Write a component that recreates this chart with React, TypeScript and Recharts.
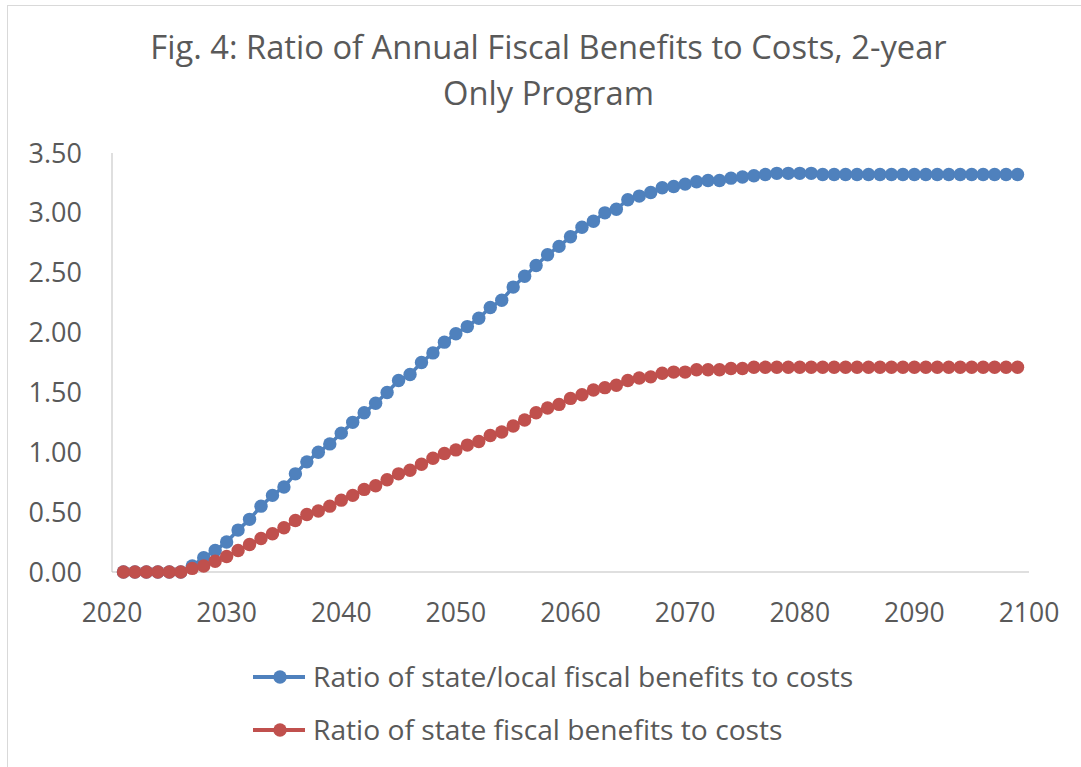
import { Line, LineChart, XAxis, YAxis } from 'recharts';

const YEARS = [
  2021, 2022, 2023, 2024, 2025, 2026, 2027, 2028, 2029, 2030,
  2031, 2032, 2033, 2034, 2035, 2036, 2037, 2038, 2039, 2040,
  2041, 2042, 2043, 2044, 2045, 2046, 2047, 2048, 2049, 2050,
  2051, 2052, 2053, 2054, 2055, 2056, 2057, 2058, 2059, 2060,
  2061, 2062, 2063, 2064, 2065, 2066, 2067, 2068, 2069, 2070,
  2071, 2072, 2073, 2074, 2075, 2076, 2077, 2078, 2079, 2080,
  2081, 2082, 2083, 2084, 2085, 2086, 2087, 2088, 2089, 2090,
  2091, 2092, 2093, 2094, 2095, 2096, 2097, 2098, 2099,
];

const STATE_LOCAL = [
  0, 0, 0, 0, 0, 0, 0.05, 0.12, 0.18, 0.25,
  0.35, 0.44, 0.55, 0.64, 0.71, 0.82, 0.92, 1.0, 1.07, 1.16,
  1.25, 1.33, 1.41, 1.5, 1.6, 1.65, 1.75, 1.83, 1.92, 1.99,
  2.05, 2.12, 2.21, 2.27, 2.38, 2.47, 2.56, 2.65, 2.72, 2.8,
  2.88, 2.93, 3.0, 3.03, 3.11, 3.14, 3.17, 3.21, 3.22, 3.24,
  3.26, 3.27, 3.27, 3.29, 3.3, 3.31, 3.32, 3.33, 3.33, 3.33,
  3.33, 3.32, 3.32, 3.32, 3.32, 3.32, 3.32, 3.32, 3.32, 3.32,
  3.32, 3.32, 3.32, 3.32, 3.32, 3.32, 3.32, 3.32, 3.32,
];

const STATE_ONLY = [
  0, 0, 0, 0, 0, 0, 0.03, 0.05, 0.09, 0.13,
  0.18, 0.23, 0.28, 0.32, 0.37, 0.43, 0.48, 0.51, 0.55, 0.6,
  0.64, 0.69, 0.72, 0.77, 0.82, 0.85, 0.9, 0.95, 0.99, 1.02,
  1.06, 1.09, 1.14, 1.17, 1.22, 1.27, 1.33, 1.37, 1.4, 1.45,
  1.48, 1.52, 1.54, 1.56, 1.6, 1.62, 1.63, 1.66, 1.67, 1.67,
  1.69, 1.69, 1.69, 1.7, 1.7, 1.71, 1.71, 1.71, 1.71, 1.71,
  1.71, 1.71, 1.71, 1.71, 1.71, 1.71, 1.71, 1.71, 1.71, 1.71,
  1.71, 1.71, 1.71, 1.71, 1.71, 1.71, 1.71, 1.71, 1.71,
];

const X_TICKS = [2020, 2030, 2040, 2050, 2060, 2070, 2080, 2090, 2100];
const Y_TICKS = [0, 0.5, 1, 1.5, 2, 2.5, 3, 3.5];

const SERIES = [
  { key: 'stateLocal', name: 'Ratio of state/local fiscal benefits to costs', color: '#4F81BD' },
  { key: 'state', name: 'Ratio of state fiscal benefits to costs', color: '#C0504D' },
];

const data = YEARS.map((year, i) => ({
  year,
  stateLocal: STATE_LOCAL[i],
  state: STATE_ONLY[i],
}));

const FONT = '"Open Sans", sans-serif';
const TEXT = '#595959';
const AXIS = '#BFBFBF';

export default function App() {
  return (
    <div style={{ position: 'absolute', left: 0, top: 0, width: 1081, height: 767, background: '#fff', fontFamily: FONT }}>
      <div style={{ position: 'absolute', left: 7, top: 5, width: 1074, height: 762, borderLeft: '1px solid #d9d9d9', borderTop: '1px solid #d9d9d9' }} />
      <div style={{ position: 'absolute', left: 0, top: 24, width: 1097, textAlign: 'center', fontSize: 32.7, lineHeight: '46px', color: TEXT }}>
        Fig. 4: Ratio of Annual Fiscal Benefits to Costs, 2-year
        <br />
        Only Program
      </div>
      <div style={{ position: 'absolute', left: 0, top: 0 }}>
        <LineChart width={1081} height={767} data={data} margin={{ top: 153, right: 52, bottom: 155, left: 0 }}>
          <XAxis
            dataKey="year"
            type="number"
            domain={[2020, 2100]}
            ticks={X_TICKS}
            height={40}
            tickLine={false}
            tickSize={0}
            tickMargin={31}
            stroke={AXIS}
            tick={{ fill: TEXT, fontSize: 26.5, fontFamily: FONT }}
          />
          <YAxis
            type="number"
            domain={[0, 3.5]}
            ticks={Y_TICKS}
            width={112}
            tickLine={false}
            tickSize={0}
            tickMargin={30}
            stroke={AXIS}
            tickFormatter={(v: number) => v.toFixed(2)}
            tick={{ fill: TEXT, fontSize: 27, fontFamily: FONT }}
          />
          {SERIES.map((s) => (
            <Line
              key={s.key}
              dataKey={s.key}
              name={s.name}
              stroke={s.color}
              strokeWidth={3.5}
              dot={{ r: 6.7, fill: s.color, stroke: 'none' }}
              activeDot={false}
              isAnimationActive={false}
            />
          ))}
        </LineChart>
      </div>
      <div style={{ position: 'absolute', left: 253, top: 650 }}>
        {SERIES.map((s) => (
          <div key={s.key} style={{ display: 'flex', alignItems: 'center', height: 53 }}>
            <svg width={52} height={16} style={{ marginRight: 8 }}>
              <line x1={0} y1={8} x2={52} y2={8} stroke={s.color} strokeWidth={4} />
              <circle cx={27} cy={8} r={6.7} fill={s.color} />
            </svg>
            <span style={{ fontSize: 28.2, lineHeight: '53px', color: TEXT, whiteSpace: 'nowrap' }}>{s.name}</span>
          </div>
        ))}
      </div>
    </div>
  );
}
